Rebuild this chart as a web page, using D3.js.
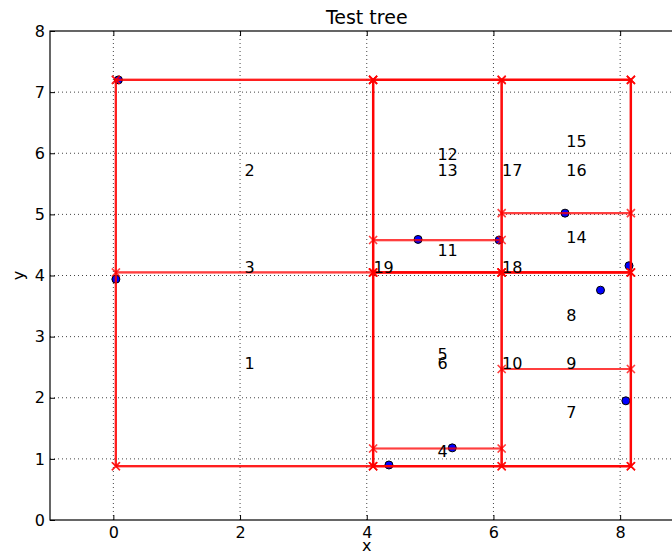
<!DOCTYPE html>
<html>
<head>
<meta charset="utf-8">
<script src="https://cdn.jsdelivr.net/npm/d3@7"></script>
<style>
  body { margin: 0; background: #fff; }
  svg { display: block; font-family: "DejaVu Sans", sans-serif; }
</style>
</head>
<body>
<div id="chart"></div>
<script>
// kd-tree style partition: node boxes [id, x0, x1, y0, y1]
const nodes = [
  [1, 0.04, 4.10, 0.88, 4.05],
  [2, 0.04, 4.10, 4.05, 7.20],
  [3, 0.04, 4.10, 0.88, 7.20],
  [4, 4.10, 6.13, 0.88, 1.17],
  [5, 4.10, 6.13, 1.17, 4.05],
  [6, 4.10, 6.13, 0.88, 4.05],
  [7, 6.13, 8.17, 0.88, 2.47],
  [8, 6.13, 8.17, 2.47, 4.05],
  [9, 6.13, 8.17, 0.88, 4.05],
  [10, 4.10, 8.17, 0.88, 4.05],
  [11, 4.10, 6.13, 4.05, 4.58],
  [12, 4.10, 6.13, 4.58, 7.20],
  [13, 4.10, 6.13, 4.05, 7.20],
  [14, 6.13, 8.17, 4.05, 5.02],
  [15, 6.13, 8.17, 5.02, 7.20],
  [16, 6.13, 8.17, 4.05, 7.20],
  [17, 4.10, 8.17, 4.05, 7.20],
  [18, 4.10, 8.17, 0.88, 7.20],
  [19, 0.04, 8.17, 0.88, 7.20]
];
// sample points
const ptX = [0.08, 0.04, 4.35, 5.35, 4.81, 6.09, 7.13, 8.14, 7.69, 8.09];
const ptY = [7.20, 3.94, 0.90, 1.18, 4.59, 4.58, 5.02, 4.16, 3.76, 1.95];
const xTicks = [0, 2, 4, 6, 8];
const yTicks = [0, 1, 2, 3, 4, 5, 6, 7, 8];

const width = 672, height = 553;
const margin = { top: 31, left: 50, bottom: 33 };
const plotW = 633.5;

const svg = d3.select("#chart").append("svg").attr("width", width).attr("height", height);
const x = d3.scaleLinear().domain([-1, 9]).range([margin.left, margin.left + plotW]);
const y = d3.scaleLinear().domain([0, 8]).range([height - margin.bottom, margin.top]);

// grid
svg.append("g").selectAll("line").data(xTicks).join("line")
  .attr("x1", d => x(d)).attr("x2", d => x(d)).attr("y1", y(0)).attr("y2", y(8))
  .attr("stroke", "#444").attr("stroke-width", 1).attr("stroke-dasharray", "1,3");
svg.append("g").selectAll("line").data(yTicks.slice(1, -1)).join("line")
  .attr("x1", x(-1)).attr("x2", x(9)).attr("y1", d => y(d)).attr("y2", d => y(d))
  .attr("stroke", "#444").attr("stroke-width", 1).attr("stroke-dasharray", "1,3");

// points
svg.append("g").selectAll("circle").data(ptX).join("circle")
  .attr("cx", d => x(d)).attr("cy", (d, i) => y(ptY[i])).attr("r", 4)
  .attr("fill", "#0000ff").attr("stroke", "#000").attr("stroke-width", 1);

// node boxes
const boxes = svg.append("g");
nodes.forEach(([id, x0, x1, y0, y1]) => {
  const corners = [[x0, y0], [x1, y0], [x1, y1], [x0, y1], [x0, y0]];
  boxes.append("path").datum(corners)
    .attr("d", d3.line().x(d => x(d[0])).y(d => y(d[1])))
    .attr("fill", "none").attr("stroke", "#ff0000").attr("stroke-width", 2.2).attr("stroke-opacity", 0.5);
  corners.slice(0, 4).forEach(([cx, cy]) => {
    boxes.append("path")
      .attr("d", `M${x(cx) - 4},${y(cy) - 4}L${x(cx) + 4},${y(cy) + 4}M${x(cx) - 4},${y(cy) + 4}L${x(cx) + 4},${y(cy) - 4}`)
      .attr("stroke", "#ff0000").attr("stroke-width", 1.5).attr("stroke-opacity", 0.5);
  });
});

// node labels at box centres
svg.append("g").selectAll("text").data(nodes).join("text")
  .attr("x", d => x((d[1] + d[2]) / 2)).attr("y", d => y((d[3] + d[4]) / 2))
  .attr("font-size", 16).attr("fill", "#000").text(d => d[0]);

// frame
svg.append("rect").attr("x", x(-1)).attr("y", y(8)).attr("width", plotW).attr("height", y(0) - y(8))
  .attr("fill", "none").attr("stroke", "#000").attr("stroke-width", 1.2);

// axes (inward ticks)
const styleAxis = g => {
  g.select(".domain").remove();
  g.selectAll(".tick line").attr("stroke", "#000");
  g.selectAll(".tick text").attr("font-size", 16).attr("fill", "#000")
    .attr("font-family", "DejaVu Sans, sans-serif");
};
svg.append("g").attr("transform", `translate(0,${y(0)})`)
  .call(d3.axisBottom(x).tickValues(xTicks).tickSize(-5).tickPadding(7).tickFormat(d3.format("d")))
  .call(styleAxis);
svg.append("g").attr("transform", `translate(${x(-1)},0)`)
  .call(d3.axisLeft(y).tickValues(yTicks).tickSize(-5).tickPadding(5).tickFormat(d3.format("d")))
  .call(styleAxis);
svg.append("g").attr("transform", `translate(0,${y(8)})`)
  .call(d3.axisTop(x).tickValues(xTicks).tickSize(-5).tickFormat(""))
  .call(styleAxis);

svg.append("text").attr("x", x(4)).attr("y", 24).attr("text-anchor", "middle")
  .attr("font-size", 19).text("Test tree");
svg.append("text").attr("x", x(4)).attr("y", 551).attr("text-anchor", "middle")
  .attr("font-size", 16).text("x");
svg.append("text").attr("transform", `translate(24,${y(4)}) rotate(-90)`).attr("text-anchor", "middle")
  .attr("font-size", 16).text("y");
</script>
</body>
</html>
